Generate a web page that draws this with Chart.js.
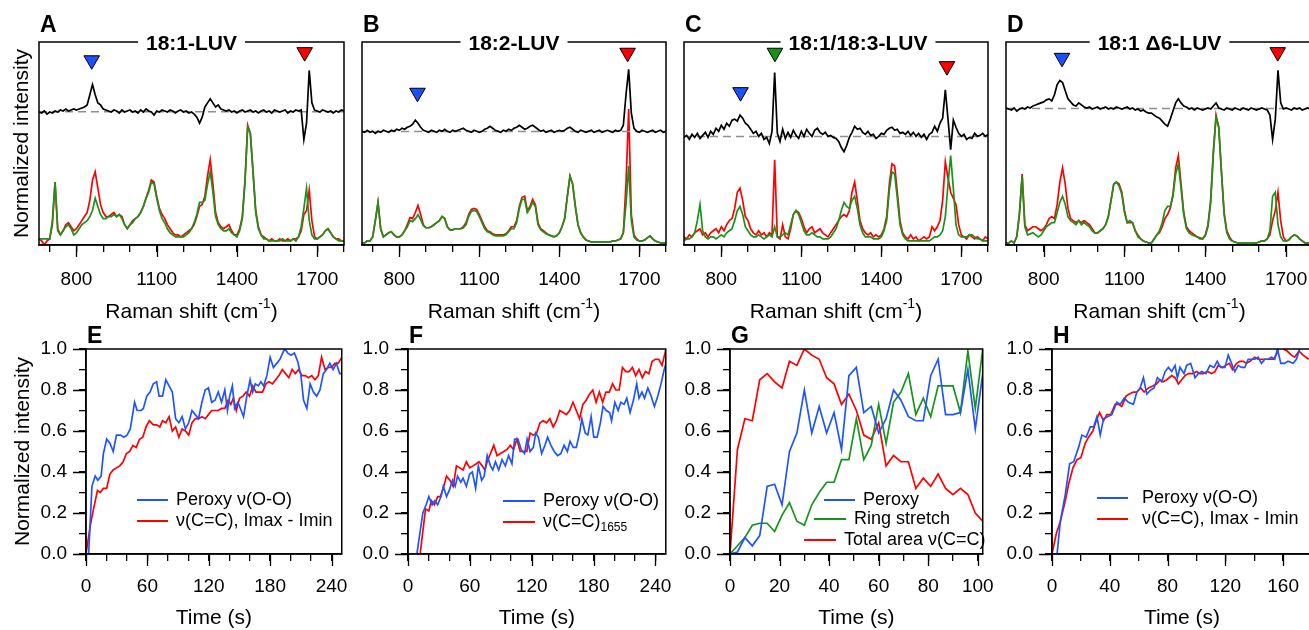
<!DOCTYPE html>
<html>
<head>
<meta charset="utf-8">
<script src="https://cdn.jsdelivr.net/npm/chart.js@4"></script>
<style>
  html, body { margin: 0; padding: 0; background: #fff; overflow: hidden; width: 1309px; height: 630px; position: relative; }
  canvas { position: absolute; }
</style>
</head>
<body>
<script>
// ---- data ----
const shifts = [660,670,680,690,700,710,720,730,740,750,760,770,780,790,800,810,820,830,840,850,
  860,870,880,890,900,910,920,930,940,950,960,970,980,990,1000,1010,1020,1030,1040,1050,
  1060,1070,1080,1090,1100,1110,1120,1130,1140,1150,1160,1170,1180,1190,1200,1210,1220,1230,1240,1250,
  1260,1270,1280,1290,1300,1310,1320,1330,1340,1350,1360,1370,1380,1390,1400,1410,1420,1430,1440,1450,
  1460,1470,1480,1490,1500,1510,1520,1530,1540,1550,1560,1570,1580,1590,1600,1610,1620,1630,1640,1650,
  1660,1670,1680,1690,1700,1710,1720,1730,1740,1750,1760,1770,1780,1790,1800];
const shiftTicks = [800, 1100, 1400, 1700];
const intensityTicks = [0, 0.2, 0.4, 0.6, 0.8, 1.0];

// A: 18:1-LUV
const aDiff = [.655,.650,.660,.645,.655,.650,.660,.655,.665,.660, .670,.660,.665,.670,.665,.670,.675,.680,.690,.740,
  .790,.740,.700,.690,.670,.665,.660,.655,.665,.660, .650,.665,.655,.660,.665,.655,.660,.650,.665,.655,
  .670,.660,.655,.640,.660,.655,.665,.660,.655,.665, .660,.650,.660,.665,.655,.660,.650,.655,.645,.630,
  .600,.630,.680,.700,.720,.700,.680,.690,.670,.665, .660,.665,.655,.660,.650,.660,.665,.655,.660,.665,
  .655,.660,.650,.660,.665,.655,.660,.650,.665,.660, .655,.660,.665,.650,.660,.655,.665,.660,.665,.520,
  .600,.860,.700,.665,.660,.655,.665,.660,.655,.660, .650,.660,.655,.665,.660];
const aRed = [.03,.02,.00,.02,.03,.10,.31,.08,.05,.07, .10,.11,.09,.07,.08,.10,.12,.14,.16,.22,
  .32,.36,.28,.20,.16,.14,.14,.15,.16,.14, .15,.14,.10,.08,.10,.12,.13,.14,.16,.19,
  .23,.27,.32,.31,.24,.18,.15,.13,.10,.08, .06,.05,.05,.04,.05,.06,.07,.08,.10,.14,
  .19,.20,.24,.34,.42,.30,.16,.11,.09,.08, .09,.10,.07,.05,.05,.08,.14,.32,.59,.55,
  .36,.17,.09,.05,.04,.03,.02,.03,.02,.02, .03,.02,.02,.03,.02,.03,.03,.04,.07,.15,
  .17,.27,.12,.04,.03,.04,.05,.07,.08,.06, .04,.03,.03,.02,.02];
const aGreen = [.03,.03,.03,.03,.03,.12,.31,.07,.05,.07, .09,.10,.08,.05,.06,.08,.10,.11,.12,.14,
  .17,.23,.19,.15,.13,.13,.14,.14,.15,.14, .15,.13,.10,.08,.10,.11,.13,.14,.16,.19,
  .23,.26,.31,.30,.23,.17,.13,.11,.08,.06, .05,.04,.04,.04,.04,.05,.06,.08,.11,.15,
  .21,.21,.22,.30,.36,.26,.14,.10,.08,.07, .07,.08,.06,.05,.04,.07,.13,.31,.58,.55,
  .36,.16,.08,.05,.03,.03,.02,.02,.02,.02, .02,.03,.02,.02,.02,.03,.02,.04,.09,.18,
  .28,.12,.05,.03,.03,.04,.05,.07,.08,.06, .04,.03,.02,.02,.02];
const aBase = 0.657;
const aMarkX = [857, 1653];
const aMarkY = [0.91, 0.95];

// B: 18:2-LUV
const bDiff = [.560,.555,.565,.555,.560,.550,.560,.555,.565,.560, .555,.565,.560,.570,.565,.575,.570,.580,.585,.595,
  .615,.600,.580,.565,.560,.555,.565,.560,.555,.565, .560,.570,.560,.555,.565,.560,.565,.570,.575,.565,
  .560,.555,.565,.560,.555,.560,.570,.575,.585,.575, .565,.560,.555,.565,.560,.570,.565,.575,.580,.590,
  .580,.570,.575,.585,.590,.580,.570,.560,.565,.555, .560,.565,.555,.560,.565,.560,.565,.575,.580,.570,
  .560,.555,.565,.560,.555,.560,.565,.555,.560,.565, .555,.560,.565,.560,.555,.565,.560,.565,.590,.740,
  .865,.650,.575,.560,.555,.565,.560,.555,.560,.565, .555,.560,.565,.555,.560];
const bRed = [.01,.01,.02,.02,.04,.12,.21,.08,.04,.05, .06,.065,.05,.04,.04,.05,.07,.10,.135,.13,
  .16,.195,.15,.10,.085,.085,.09,.10,.11,.12, .14,.13,.09,.075,.075,.08,.08,.08,.09,.11,
  .15,.175,.18,.175,.15,.12,.09,.07,.065,.055, .05,.05,.05,.05,.055,.07,.09,.09,.12,.19,
  .235,.24,.17,.19,.225,.20,.11,.08,.07,.06, .05,.045,.04,.045,.06,.09,.13,.24,.34,.30,
  .19,.10,.06,.04,.025,.02,.015,.015,.015,.015, .015,.015,.015,.015,.02,.02,.025,.03,.06,.30,
  .67,.15,.05,.03,.02,.02,.025,.035,.045,.03, .02,.015,.01,.01,.01];
const bGreen = [.01,.01,.02,.02,.04,.12,.21,.08,.04,.05, .06,.065,.05,.04,.04,.05,.07,.09,.12,.115,
  .13,.15,.125,.095,.085,.085,.09,.10,.11,.12, .14,.13,.09,.075,.075,.08,.08,.08,.085,.10,
  .14,.165,.17,.165,.14,.11,.08,.065,.06,.05, .045,.045,.045,.045,.05,.065,.08,.08,.11,.18,
  .225,.225,.16,.18,.21,.19,.10,.075,.065,.055, .05,.045,.04,.045,.06,.09,.13,.24,.34,.30,
  .19,.10,.06,.04,.025,.02,.015,.015,.015,.015, .015,.015,.015,.015,.02,.02,.025,.03,.06,.20,
  .39,.12,.04,.025,.02,.02,.025,.035,.045,.03, .02,.015,.01,.01,.01];
const bBase = 0.559;
const bMarkX = [868, 1656];
const bMarkY = [0.75, 0.947];

// C: 18:1/18:3-LUV
const cDiff = [.530,.540,.520,.545,.530,.550,.525,.540,.555,.530, .560,.545,.575,.560,.590,.570,.600,.585,.615,.620,
  .610,.640,.625,.600,.590,.570,.550,.560,.535,.550, .520,.530,.500,.560,.850,.550,.510,.570,.525,.555,
  .530,.565,.540,.525,.560,.535,.570,.550,.535,.565, .575,.555,.545,.555,.535,.540,.530,.525,.510,.480,
  .460,.490,.530,.555,.585,.570,.575,.555,.545,.560, .540,.545,.525,.535,.550,.545,.565,.575,.580,.565,
  .570,.550,.555,.545,.560,.540,.555,.535,.550,.530, .545,.520,.545,.555,.585,.560,.600,.625,.765,.620,
  .470,.615,.580,.550,.535,.545,.520,.530,.525,.550, .535,.540,.550,.535,.545];
const cRed = [.04,.03,.05,.04,.06,.07,.08,.05,.06,.04, .06,.07,.08,.06,.09,.07,.10,.12,.13,.18,
  .26,.28,.22,.14,.12,.08,.06,.05,.07,.05, .06,.04,.06,.05,.42,.04,.03,.10,.04,.03,
  .08,.15,.17,.16,.13,.09,.06,.08,.09,.06, .07,.08,.06,.05,.04,.06,.08,.10,.12,.14,
  .15,.14,.17,.26,.31,.22,.12,.08,.06,.05, .06,.04,.05,.04,.05,.08,.14,.30,.40,.39,
  .26,.12,.06,.04,.03,.05,.03,.04,.02,.03, .04,.03,.04,.09,.07,.09,.12,.22,.41,.33,
  .26,.23,.20,.10,.05,.04,.03,.05,.04,.03, .04,.03,.02,.04,.03];
const cGreen = [.02,.03,.03,.04,.06,.12,.20,.07,.04,.03, .04,.04,.03,.04,.05,.04,.06,.07,.08,.12,
  .17,.19,.15,.09,.07,.05,.04,.04,.05,.04, .03,.04,.05,.04,.09,.04,.04,.05,.06,.05,
  .10,.15,.17,.15,.11,.07,.05,.05,.06,.05, .04,.04,.03,.03,.03,.04,.06,.08,.12,.17,
  .21,.19,.18,.22,.24,.18,.10,.06,.04,.04, .04,.03,.03,.03,.04,.07,.12,.27,.36,.35,
  .23,.10,.05,.03,.02,.02,.02,.02,.02,.02, .02,.02,.02,.03,.04,.04,.05,.07,.14,.30,
  .44,.28,.10,.05,.04,.04,.04,.05,.05,.04, .03,.03,.02,.02,.02];
const cBase = 0.534;
const cMarkX = [872, 1001, 1646];
const cMarkY = [0.753, 0.947, 0.881];

// D: 18:1 Δ6-LUV
const dDiff = [.675,.670,.665,.675,.660,.670,.675,.670,.680,.675, .685,.690,.695,.700,.705,.715,.720,.710,.740,.790,
  .810,.800,.760,.720,.705,.690,.685,.700,.690,.680, .675,.680,.670,.675,.680,.670,.675,.680,.670,.675,
  .670,.680,.675,.670,.675,.680,.670,.675,.665,.670, .660,.665,.655,.650,.650,.640,.630,.625,.610,.595,
  .585,.620,.660,.700,.720,.700,.685,.680,.670,.675, .665,.675,.670,.665,.670,.675,.670,.685,.700,.675,
  .670,.665,.675,.670,.665,.675,.670,.665,.675,.670, .665,.675,.670,.665,.670,.675,.670,.665,.640,.520,
  .620,.860,.700,.670,.675,.670,.665,.675,.670,.675, .665,.670,.675,.670,.665];
const dRed = [.01,.01,.02,.01,.04,.15,.35,.10,.07,.08, .09,.09,.08,.07,.08,.10,.13,.14,.13,.20,
  .31,.38,.30,.18,.13,.12,.11,.12,.11,.12, .11,.10,.08,.06,.06,.07,.08,.10,.14,.22,
  .30,.31,.30,.26,.17,.11,.11,.11,.07,.05, .03,.02,.015,.01,.01,.03,.05,.06,.09,.13,
  .15,.18,.25,.38,.44,.30,.16,.09,.07,.06, .05,.04,.035,.03,.05,.10,.22,.46,.64,.58,
  .36,.16,.07,.04,.02,.015,.01,.01,.01,.01, .01,.01,.01,.01,.015,.02,.02,.03,.05,.12,
  .17,.26,.12,.04,.02,.025,.04,.05,.045,.03, .02,.01,.01,.01,.01];
const dGreen = [.01,.01,.02,.01,.04,.16,.34,.09,.05,.055, .06,.05,.04,.05,.07,.09,.10,.11,.11,.16,
  .21,.24,.20,.14,.12,.11,.10,.12,.10,.11, .10,.09,.07,.06,.06,.07,.08,.10,.14,.22,
  .30,.31,.29,.25,.16,.11,.12,.11,.07,.04, .03,.02,.015,.01,.01,.03,.05,.07,.11,.17,
  .19,.19,.24,.35,.40,.28,.15,.08,.06,.05, .045,.04,.03,.03,.045,.09,.21,.45,.63,.58,
  .36,.15,.06,.03,.02,.015,.01,.01,.01,.01, .01,.01,.01,.01,.015,.02,.02,.03,.07,.24,
  .26,.10,.04,.02,.02,.025,.04,.05,.045,.03, .02,.01,.01,.01,.01];
const dBase = 0.673;
const dMarkX = [868, 1669];
const dMarkY = [0.922, 0.95];

// E
const eTicks = [0, 60, 120, 180, 240];
const ePeroxyT = [0,2.6,5.8,9.0,11.5,14.8,17.0,20.2,23.4,26.6,29.8,33.7,36.9,40.1,43.3,47.5,50.0,53.9,56.1,59.4,
  62.6,65.8,69.0,71.5,74.8,78.0,81.2,84.4,87.6,90.8,94.0,97.2,100.4,103.6,106.8,110.0,113.3,116.5,119.7,122.9,
  126.1,129.3,132.5,135.7,138.3,140.5,143.1,145.3,148.5,151.7,154.0,157.2,160.4,163.0,165.5,168.4,171.0,173.6,176.8,180.0,
  183.2,186.4,189.6,192.2,194.4,197.3,200.5,203.7,206.9,210.1,212.7,215.9,219.1,222.3,225.5,228.7,232.0,235.2,238.4,241.6,
  244.8,248.0,250.2];
const ePeroxy = [0,0,.33,.38,.36,.38,.49,.56,.54,.50,.58,.58,.57,.58,.61,.74,.70,.70,.71,.77,
  .79,.83,.84,.77,.77,.85,.82,.79,.66,.64,.67,.61,.64,.70,.68,.66,.74,.80,.81,.74,
  .75,.79,.74,.80,.70,.77,.82,.71,.74,.70,.67,.77,.85,.79,.83,.82,.84,.82,.87,.96,
  .91,.93,.95,.98,1.00,.98,.97,.98,.94,.87,.75,.71,.83,.79,.77,.80,.88,.90,.93,.90,
  .93,.88,.88];
const eCCT = [0,4.2,7.4,11.2,13.8,17.0,20.2,23.4,26.6,29.8,33.0,36.3,39.5,42.7,45.9,49.1,52.3,55.5,58.7,61.9,
  65.8,69.0,72.2,74.8,78.0,81.2,84.4,87.6,90.8,94.0,97.2,100.4,103.6,106.8,110.0,113.3,116.5,119.7,122.9,126.1,
  129.3,132.5,135.7,138.9,141.5,144.1,146.9,150.1,153.4,156.6,159.8,163.0,166.2,169.4,172.6,175.8,179.0,182.2,185.4,188.6,
  191.9,195.1,198.3,201.5,204.7,207.9,211.1,214.3,217.5,220.7,223.9,227.1,230.3,233.6,236.8,240.0,243.2,246.4,250.2];
const eCC = [0,.14,.22,.31,.30,.32,.32,.39,.41,.42,.43,.45,.49,.50,.53,.52,.56,.57,.62,.65,
  .63,.63,.62,.65,.64,.67,.60,.62,.57,.61,.60,.58,.64,.66,.66,.67,.66,.68,.70,.70,
  .70,.71,.71,.75,.73,.76,.70,.76,.77,.79,.77,.82,.79,.79,.79,.83,.84,.83,.85,.87,
  .90,.88,.86,.90,.88,.90,.87,.87,.86,.87,.85,.87,.96,.90,.91,.91,.93,.93,.96];

// F
const fTicks = [0, 60, 120, 180, 240];
const fPeroxyT = [0,8.6,14.4,17.6,20.2,23.4,25.9,28.8,32.0,34.2,37.4,40.0,43.2,45.8,48.0,51.2,53.4,56.6,59.8,62.4,
  65.6,68.2,71.4,73.9,76.8,80.0,82.2,84.8,88.0,91.2,94.4,97.6,100.8,103.4,106.6,109.8,113.0,115.5,118.4,121.6,
  123.8,126.4,129.6,132.8,135.4,138.6,141.8,145.0,148.2,151.4,154.6,157.1,160.3,163.2,166.4,168.6,171.8,174.4,177.6,180.2,
  183.4,186.6,189.1,192.3,195.5,197.4,200.6,203.8,206.4,209.6,212.2,215.4,218.6,221.8,224.0,226.9,229.4,232.6,235.8,239.0,
  242.2,245.4,248.0,250.2];
const fPeroxy = [0,0,.20,.24,.28,.24,.26,.24,.28,.33,.28,.31,.36,.33,.38,.35,.37,.33,.39,.40,
  .32,.43,.36,.38,.48,.43,.41,.45,.41,.46,.43,.48,.44,.56,.56,.51,.49,.56,.50,.52,
  .59,.57,.49,.53,.57,.53,.50,.48,.49,.53,.50,.55,.52,.52,.59,.66,.59,.58,.67,.57,
  .57,.64,.72,.70,.69,.65,.74,.70,.74,.73,.76,.69,.75,.83,.76,.79,.76,.81,.77,.72,
  .77,.83,.89,.93];
const fCCT = [0,11.8,17.0,20.2,22.7,25.6,28.8,31.4,34.2,37.4,40.6,43.8,47.0,50.2,53.4,56.6,59.8,63.0,66.2,68.8,
  72.0,74.6,76.8,80.0,83.2,86.4,89.6,92.8,96.0,99.2,102.4,105.6,108.8,112.0,115.2,118.4,121.6,124.8,128.0,131.2,
  134.4,137.6,140.8,144.0,147.2,150.4,153.6,156.8,160.0,163.2,166.4,169.6,172.8,176.0,179.2,182.4,185.6,188.8,192.0,195.2,
  198.4,201.6,204.8,208.0,211.2,214.4,217.6,220.8,224.0,227.2,230.4,233.6,236.8,240.0,243.2,246.4,250.2];
const fCC = [0,0,.22,.21,.26,.24,.28,.28,.32,.38,.36,.33,.43,.42,.41,.45,.42,.43,.44,.45,
  .43,.41,.45,.49,.53,.48,.49,.50,.51,.53,.51,.56,.50,.50,.50,.59,.58,.59,.64,.65,
  .64,.66,.62,.65,.70,.69,.68,.70,.74,.70,.66,.73,.75,.78,.80,.74,.79,.74,.79,.79,
  .83,.80,.80,.91,.89,.89,.91,.87,.90,.86,.89,.88,.94,.95,.95,.92,1.0];

// G
const gTicks = [0, 20, 40, 60, 80, 100];
const gTime = [0,3,6,9,12,15,18,21,24,27,30,33,36,39,42,45,48,51,54,57,60,63,66,69,72,75,78,81,84,87,90,93,96,99,102];
const gPeroxy = [0,.01,.08,.04,.09,.33,.34,.24,.50,.59,.80,.59,.72,.59,.69,.51,.87,.91,.69,.72,
  .59,.66,.80,.75,.67,.65,.65,.87,.95,.68,.68,.69,.90,.61,.88];
const gRing = [0,.04,.08,.14,.15,.15,.11,.19,.25,.16,.14,.24,.30,.35,.35,.46,.46,.66,.46,.53,
  .73,.54,.74,.79,.88,.68,.76,.67,.82,.82,.82,.69,.99,.71,1.0];
const gArea = [0,.51,.66,.65,.85,.88,.84,.81,.94,.92,1.0,.97,.95,.86,.83,.73,.78,.70,.58,.56,
  .64,.43,.48,.45,.45,.32,.37,.33,.39,.32,.29,.32,.29,.20,.16];

// H
const hTicks = [0, 40, 80, 120, 160];
const hPeroxyT = [0,3.5,5.8,9.2,12.2,15.0,18.4,20.7,23.7,26.5,28.8,31.1,33.4,35.7,38.4,41.4,44.9,47.2,50.0,52.9,
  56.4,58.7,61.0,63.3,65.6,68.4,70.7,73.0,76.0,78.3,80.6,82.9,85.2,86.8,88.6,91.4,93.2,96.0,99.0,101.3,
  103.6,106.6,109.3,112.1,114.4,116.7,119.7,122.0,124.3,126.6,128.9,131.2,133.5,135.8,138.1,140.4,142.7,145.0,147.3,149.6,
  151.9,154.2,156.1,158.4,161.1,163.4,166.9,169.2,171.5,173.8,177.7];
const hPeroxy = [0,0,.16,.29,.44,.45,.52,.58,.57,.62,.62,.67,.58,.66,.67,.68,.74,.73,.76,.74,
  .73,.79,.81,.86,.78,.80,.81,.86,.84,.89,.91,.89,.92,.86,.91,.88,.92,.93,.86,.88,
  .89,.88,.92,.91,.94,.91,.91,.97,.93,.89,.92,.91,.91,.95,.95,.95,.96,.93,.95,.95,
  .96,.95,1.0,.93,.93,.94,.93,.95,1.0,1.02,1.02];
const hCCT = [0,3.0,5.8,9.2,11.5,14.5,17.3,20.0,23.0,25.3,28.3,30.6,32.9,35.7,38.0,40.7,43.7,46.0,48.3,51.3,
  53.6,56.4,58.7,61.5,63.8,66.8,69.8,72.5,74.8,77.1,79.4,82.9,85.2,87.5,89.8,92.1,94.4,97.4,100.1,102.4,
  104.7,107.5,110.5,112.8,115.1,118.1,120.4,122.7,125.0,127.8,130.1,132.4,134.7,137.0,140.4,142.7,145.7,148.5,150.8,153.5,
  155.8,157.7,160.4,162.8,165.7,168.0,171.0,173.8,177.7];
const hCC = [0,.10,.16,.26,.34,.42,.46,.47,.54,.57,.60,.65,.69,.65,.68,.68,.73,.73,.72,.77,
  .78,.79,.79,.81,.79,.81,.82,.83,.85,.84,.85,.87,.86,.83,.85,.87,.88,.88,.89,.88,
  .88,.89,.88,.89,.92,.91,.92,.93,.90,.93,.94,.94,.93,.94,.96,.95,.95,.95,.95,.95,
  .98,1.02,1.0,.99,.97,.96,.99,.97,.95];

// ---- drawing ----
const FONT = "'Liberation Sans', Arial, Helvetica, sans-serif";
Chart.defaults.font.family = FONT;
Chart.defaults.color = '#000';
Chart.defaults.animation = false;

const RED = '#ff0000', GREEN = '#17941a', BLUE = '#1f55ff', BLACK = '#000000';

function pairs(xs, ys) {
  const n = Math.min(xs.length, ys.length), out = [];
  for (let i = 0; i < n; i++) out.push({ x: xs[i], y: ys[i] });
  return out;
}
function line(xs, ys, color, label) {
  return { label: label || '', data: pairs(xs, ys), borderColor: color, backgroundColor: color,
    borderWidth: 1.7, pointRadius: 0, tension: 0, fill: false };
}
function dashed(level) {
  return { data: pairs([shifts[0], shifts[shifts.length - 1]], [level, level]), borderColor: '#8f8f8f',
    borderWidth: 1.5, borderDash: [8, 5], pointRadius: 0, fill: false };
}
function markers(xs, ys, colors) {
  return { data: pairs(xs, ys), showLine: false, pointStyle: 'triangle', pointRotation: 180,
    pointRadius: 9, pointBackgroundColor: colors, pointBorderColor: '#000', pointBorderWidth: 1 };
}
const near = (list, v) => list.some(t => Math.abs(t - v) < 1e-6);

// text with ^{sup} / _{sub}
function drawRich(ctx, str, x, y, size, align) {
  const parts = [], re = /([\^_])\{([^}]*)\}/g;
  let last = 0, m;
  while ((m = re.exec(str))) {
    if (m.index > last) parts.push({ t: str.slice(last, m.index), k: '' });
    parts.push({ t: m[2], k: m[1] });
    last = re.lastIndex;
  }
  if (last < str.length) parts.push({ t: str.slice(last), k: '' });
  const small = Math.round(size * 0.66);
  const fontOf = p => (p.k ? small : size) + 'px ' + FONT;
  let total = 0;
  parts.forEach(p => { ctx.font = fontOf(p); p.w = ctx.measureText(p.t).width; total += p.w; });
  let cx = align === 'center' ? x - total / 2 : x;
  ctx.textAlign = 'left';
  parts.forEach(p => {
    ctx.font = fontOf(p);
    const dy = p.k === '^' ? -size * 0.5 : p.k === '_' ? size * 0.33 : 0;
    ctx.fillText(p.t, cx, y + dy);
    cx += p.w;
  });
}

const deco = {
  id: 'deco',
  afterDraw(chart, args, o) {
    const ctx = chart.ctx, a = chart.chartArea;
    ctx.save();
    // longer tick marks at the labelled values
    ctx.strokeStyle = '#000';
    ctx.lineWidth = 1.3;
    ctx.beginPath();
    (o.majorX || []).forEach(v => {
      const px = Math.round(chart.scales.x.getPixelForValue(v)) + 0.5;
      ctx.moveTo(px, a.bottom); ctx.lineTo(px, a.bottom + 12);
    });
    (o.majorY || []).forEach(v => {
      const py = Math.round(chart.scales.y.getPixelForValue(v)) + 0.5;
      ctx.moveTo(a.left, py); ctx.lineTo(a.left - 13, py);
    });
    ctx.stroke();
    ctx.lineWidth = 1.5;
    ctx.strokeRect(a.left, a.top, a.right - a.left, a.bottom - a.top);
    ctx.fillStyle = '#000';
    ctx.textBaseline = 'alphabetic';
    if (o.title) {
      ctx.font = 'bold 21px ' + FONT;
      const w = ctx.measureText(o.title).width;
      const cx = (a.left + a.right) / 2 + (o.titleShift || 0);
      ctx.fillStyle = '#fff';
      ctx.fillRect(cx - w / 2 - 8, a.top - 3, w + 16, 6);
      ctx.fillStyle = '#000';
      ctx.textAlign = 'center';
      ctx.fillText(o.title, cx, a.top + 8);
    }
    ctx.font = 'bold 23px ' + FONT;
    ctx.textAlign = 'left';
    ctx.fillText(o.letter, a.left + 1, a.top - o.letterGap);
    drawRich(ctx, o.xTitle, (a.left + a.right) / 2, a.bottom + o.xTitleDy, 21, 'center');
    if (o.yTitle) {
      ctx.save();
      ctx.translate(o.yTitleX, (a.top + a.bottom) / 2);
      ctx.rotate(-Math.PI / 2);
      ctx.font = '21px ' + FONT;
      ctx.textAlign = 'center';
      ctx.fillText(o.yTitle, 0, 0);
      ctx.restore();
    }
    if (o.legend) {
      ctx.textBaseline = 'middle';
      o.legend.forEach(it => {
        const ds = chart.data.datasets[it.ds];
        ctx.strokeStyle = ds.borderColor;
        ctx.lineWidth = 2;
        ctx.beginPath();
        ctx.moveTo(a.left + it.x1, a.top + it.y);
        ctx.lineTo(a.left + it.x2, a.top + it.y);
        ctx.stroke();
        ctx.fillStyle = '#000';
        drawRich(ctx, ds.label, a.left + it.tx, a.top + it.y, 18, 'left');
      });
    }
    ctx.restore();
  }
};

function makeChart(box, area, datasets, xOpts, yOpts, decoOpts) {
  const c = document.createElement('canvas');
  c.width = box.w; c.height = box.h;
  c.style.left = box.x + 'px'; c.style.top = box.y + 'px';
  c.style.width = box.w + 'px'; c.style.height = box.h + 'px';
  document.body.appendChild(c);
  const xH = box.y + box.h - area.bottom, yW = area.left - box.x;
  return new Chart(c.getContext('2d'), {
    type: 'line',
    data: { datasets },
    options: {
      responsive: false, devicePixelRatio: 1, animation: false, events: [],
      layout: { padding: { left: 0, bottom: 0, top: area.top - box.y, right: box.x + box.w - area.right } },
      plugins: { legend: { display: false }, tooltip: { enabled: false }, deco: decoOpts },
      scales: {
        x: Object.assign({ type: 'linear', afterFit: s => { s.height = xH; } }, xOpts),
        y: Object.assign({ afterFit: s => { s.width = yW; } }, yOpts)
      }
    },
    plugins: [deco]
  });
}

const tickGrid = { drawOnChartArea: false, tickLength: 7, color: '#000', lineWidth: 1.3 };
const axisBorder = { display: true, color: '#000', width: 1.5 };

function spectrumPanel(box, area, letter, title, titleShift, diff, red, green, base, mx, my, mcolors, yTitle) {
  const datasets = [markers(mx, my, mcolors), line(shifts, diff, BLACK), dashed(base),
    line(shifts, green, GREEN), line(shifts, red, RED)];
  makeChart(box, area, datasets,
    { min: 660, max: 1800, grid: tickGrid, border: axisBorder,
      ticks: { stepSize: 100, autoSkip: false, maxRotation: 0, includeBounds: false, padding: 16,
        font: { size: 19 }, callback: v => near(shiftTicks, v) ? String(v) : '' } },
    { min: 0, max: 1, ticks: { display: false }, grid: { display: false }, border: { display: false } },
    { letter, title, titleShift, letterGap: 10, xTitle: 'Raman shift (cm^{-1})', xTitleDy: 73,
      yTitle, yTitleX: 28, majorX: shiftTicks });
}

function kineticPanel(box, area, letter, datasets, xMax, step, labels, legend, yTitle) {
  makeChart(box, area, datasets,
    { min: 0, max: xMax, grid: tickGrid, border: axisBorder,
      ticks: { stepSize: step, autoSkip: false, maxRotation: 0, includeBounds: false, padding: 14,
        font: { size: 19 }, callback: v => near(labels, v) ? String(v) : '' } },
    { min: 0, max: 1, grid: tickGrid, border: axisBorder,
      ticks: { stepSize: 0.1, autoSkip: false, padding: 12, font: { size: 19 },
        callback: v => near(intensityTicks, v) ? v.toFixed(1) : '' } },
    { letter, letterGap: 6, xTitle: 'Time (s)', xTitleDy: 70, yTitle, yTitleX: 29, legend,
      majorX: labels, majorY: intensityTicks });
}

const TRI_BLUE = '#1d4fff', TRI_RED = '#ff0000', TRI_GREEN = '#139413';

spectrumPanel({ x: 0, y: 0, w: 360, h: 322 }, { left: 39, top: 42, right: 346, bottom: 245 },
  'A', '18:1-LUV', 0, aDiff, aRed, aGreen, aBase, aMarkX, aMarkY, [TRI_BLUE, TRI_RED], 'Normalized intensity');
spectrumPanel({ x: 348, y: 0, w: 334, h: 322 }, { left: 362, top: 42, right: 668, bottom: 245 },
  'B', '18:2-LUV', 0, bDiff, bRed, bGreen, bBase, bMarkX, bMarkY, [TRI_BLUE, TRI_RED]);
spectrumPanel({ x: 670, y: 0, w: 334, h: 322 }, { left: 684, top: 42, right: 990, bottom: 245 },
  'C', '18:1/18:3-LUV', 22, cDiff, cRed, cGreen, cBase, cMarkX, cMarkY, [TRI_BLUE, TRI_GREEN, TRI_RED]);
spectrumPanel({ x: 992, y: 0, w: 340, h: 322 }, { left: 1006, top: 42, right: 1313, bottom: 245 },
  'D', '18:1 Δ6-LUV', 0, dDiff, dRed, dGreen, dBase, dMarkX, dMarkY, [TRI_BLUE, TRI_RED]);

kineticPanel({ x: 0, y: 322, w: 362, h: 308 }, { left: 86, top: 349, right: 346, bottom: 554 }, 'E',
  [line(ePeroxyT, ePeroxy, BLUE, 'Peroxy ν(O-O)'), line(eCCT, eCC, RED, 'ν(C=C), Imax - Imin')],
  250, 20, eTicks,
  [{ ds: 0, x1: 51, x2: 82, tx: 90, y: 151 }, { ds: 1, x1: 51, x2: 82, tx: 90, y: 172 }], 'Normalized intensity');
kineticPanel({ x: 352, y: 322, w: 334, h: 308 }, { left: 408, top: 349, right: 669, bottom: 554 }, 'F',
  [line(fPeroxyT, fPeroxy, BLUE, 'Peroxy ν(O-O)'), line(fCCT, fCC, RED, 'ν(C=C)_{1655}')],
  250, 20, fTicks,
  [{ ds: 0, x1: 95, x2: 127, tx: 135, y: 152 }, { ds: 1, x1: 95, x2: 127, tx: 135, y: 173 }]);
kineticPanel({ x: 674, y: 322, w: 334, h: 308 }, { left: 730, top: 349, right: 989, bottom: 554 }, 'G',
  [line(gTime, gPeroxy, BLUE, 'Peroxy'), line(gTime, gRing, GREEN, 'Ring stretch'),
   line(gTime, gArea, RED, 'Total area ν(C=C)')],
  102, 10, gTicks,
  [{ ds: 0, x1: 94, x2: 125, tx: 133, y: 151 }, { ds: 1, x1: 84, x2: 116, tx: 124, y: 170 },
   { ds: 2, x1: 74, x2: 106, tx: 114, y: 191 }]);
kineticPanel({ x: 996, y: 322, w: 340, h: 308 }, { left: 1052, top: 349, right: 1312, bottom: 554 }, 'H',
  [line(hPeroxyT, hPeroxy, BLUE, 'Peroxy ν(O-O)'), line(hCCT, hCC, RED, 'ν(C=C), Imax - Imin')],
  180, 20, hTicks,
  [{ ds: 0, x1: 45, x2: 76, tx: 90, y: 149 }, { ds: 1, x1: 45, x2: 76, tx: 90, y: 170 }]);
</script>
</body>
</html>
